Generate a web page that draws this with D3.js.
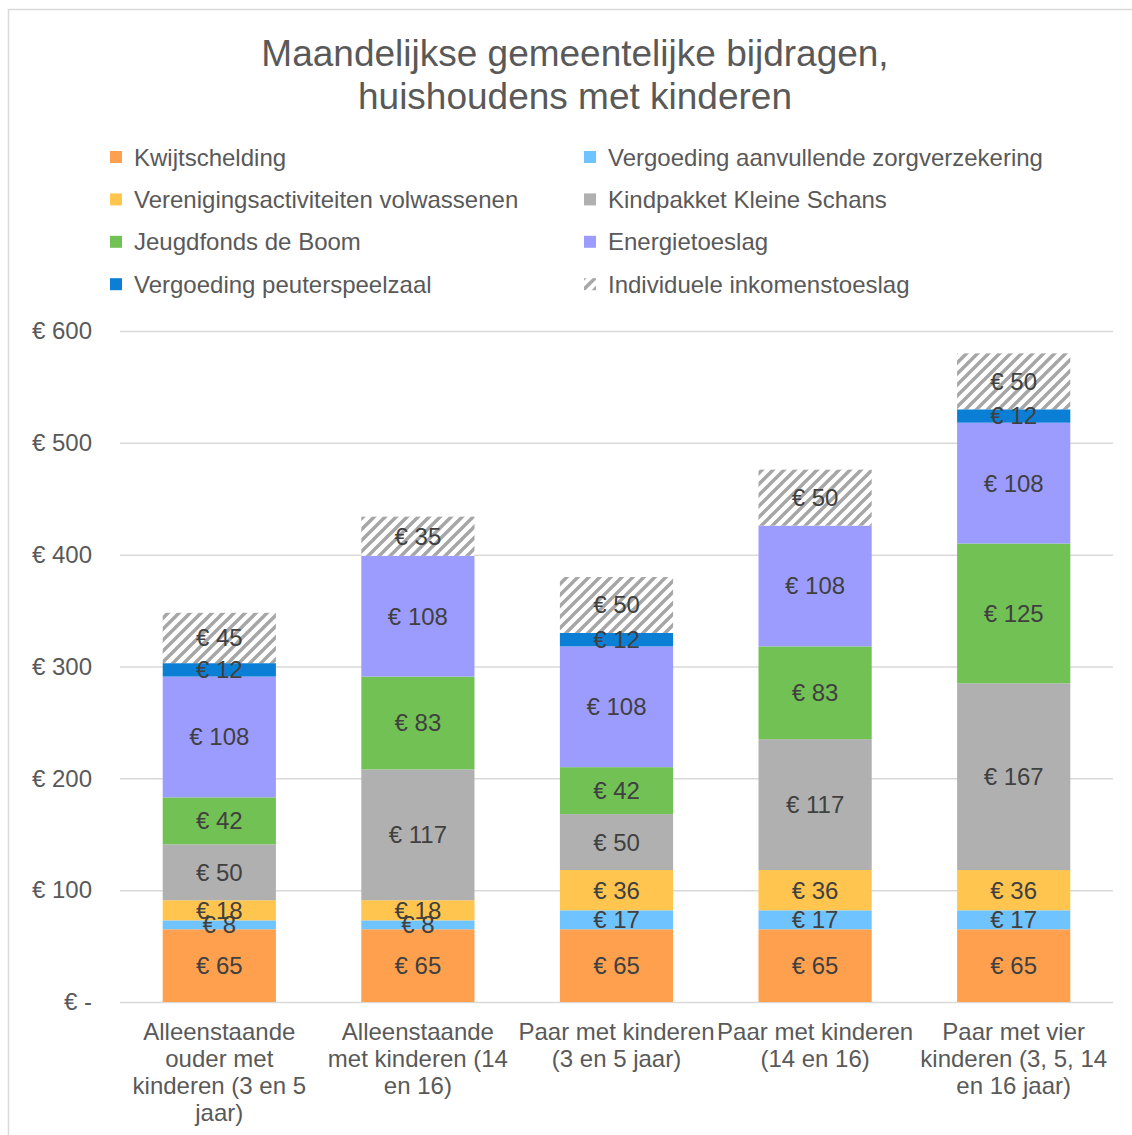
<!DOCTYPE html>
<html>
<head>
<meta charset="utf-8">
<script src="https://cdn.jsdelivr.net/npm/d3@7"></script>
<style>
  body { margin: 0; background: #fff; }
  text { font-family: "Liberation Sans", Arial, sans-serif; }
</style>
</head>
<body>
<svg width="1132" height="1135"></svg>
<script>
// Categories (line breaks as in the original axis)
const categories = [
    "Alleenstaande\nouder met\nkinderen (3 en 5\njaar)",
    "Alleenstaande\nmet kinderen (14\nen 16)",
    "Paar met kinderen\n(3 en 5 jaar)",
    "Paar met kinderen\n(14 en 16)",
    "Paar met vier\nkinderen (3, 5, 14\nen 16 jaar)"
];

// Series, stacked from bottom to top
const seriesNames = [
    "Kwijtschelding",
    "Vergoeding aanvullende zorgverzekering",
    "Verenigingsactiviteiten volwassenen",
    "Kindpakket Kleine Schans",
    "Jeugdfonds de Boom",
    "Energietoeslag",
    "Vergoeding peuterspeelzaal",
    "Individuele inkomenstoeslag"
];
const kwijtschelding   = [65, 65, 65, 65, 65];
const zorgverzekering  = [8, 8, 17, 17, 17];
const verenigingen     = [18, 18, 36, 36, 36];
const kindpakket       = [50, 117, 50, 117, 167];
const jeugdfonds       = [42, 83, 42, 83, 125];
const energietoeslag   = [108, 108, 108, 108, 108];
const peuterspeelzaal  = [12, 0, 12, 0, 12];
const inkomenstoeslag  = [45, 35, 50, 50, 50];
const seriesValues = [kwijtschelding, zorgverzekering, verenigingen, kindpakket,
                      jeugdfonds, energietoeslag, peuterspeelzaal, inkomenstoeslag];

const yTicks = [0, 100, 200, 300, 400, 500, 600];
const titleLines = ["Maandelijkse gemeentelijke bijdragen,", "huishoudens met kinderen"];

// Colours per series
const colors = ["#ffa04f", "#6fc3ff", "#ffc54f", "#b0b0b0", "#72c155", "#9c9cff", "#0b7fd6", "url(#hatch)"];

const svg = d3.select("svg");
const textColor = "#595959";

// Hatch pattern for the last series
const defs = svg.append("defs");
const pat = defs.append("pattern")
    .attr("id", "hatch")
    .attr("patternUnits", "userSpaceOnUse")
    .attr("width", 11).attr("height", 11);
pat.append("rect").attr("width", 11).attr("height", 11).attr("fill", "#fff");
pat.append("path")
    .attr("d", "M-3,3 L3,-3 M0,11 L11,0 M8,14 L14,8")
    .attr("stroke", "#a6a6a6")
    .attr("stroke-width", 3.4);

// Chart border
svg.append("rect")
    .attr("x", 8.5).attr("y", 9.5)
    .attr("width", 1140).attr("height", 1140)
    .attr("fill", "none")
    .attr("stroke", "#d9d9d9")
    .attr("stroke-width", 1.5);

// Title
svg.append("text")
    .attr("x", 575).attr("y", 66)
    .attr("text-anchor", "middle")
    .attr("font-size", 37)
    .attr("fill", textColor)
    .selectAll("tspan")
    .data(titleLines)
    .join("tspan")
    .attr("x", 575)
    .attr("dy", (d, i) => i === 0 ? 0 : 43)
    .text(d => d);

// Legend, two columns, filled row by row
const legend = svg.append("g");
const legendItems = legend.selectAll("g")
    .data(seriesNames)
    .join("g")
    .attr("transform", (d, i) => `translate(${i % 2 === 0 ? 110 : 584},${151 + Math.floor(i / 2) * 42.4})`);
legendItems.append("rect")
    .attr("width", 12).attr("height", 12)
    .attr("fill", (d, i) => colors[i]);
legendItems.append("text")
    .attr("x", 24).attr("y", 14.5)
    .attr("font-size", 24)
    .attr("fill", textColor)
    .text(d => d);

// Scales
const plot = { left: 120, right: 1113, top: 331, bottom: 1002 };
const x = d3.scaleBand()
    .domain(d3.range(categories.length))
    .range([plot.left, plot.right])
    .paddingInner(0.43)
    .paddingOuter(0.215);
const y = d3.scaleLinear()
    .domain([0, 600])
    .range([plot.bottom, plot.top]);

// Gridlines
svg.append("g")
    .selectAll("line")
    .data(yTicks)
    .join("line")
    .attr("x1", plot.left).attr("x2", plot.right)
    .attr("y1", d => y(d) + 0.5).attr("y2", d => y(d) + 0.5)
    .attr("stroke", "#d9d9d9")
    .attr("stroke-width", 1.5);

// Y axis labels
const yAxis = svg.append("g")
    .attr("transform", `translate(${plot.left},0)`)
    .call(d3.axisLeft(y).tickValues(yTicks).tickSize(0).tickPadding(28)
        .tickFormat(d => d === 0 ? "€ -" : "€ " + d));
yAxis.select(".domain").remove();
yAxis.selectAll("text")
    .attr("font-size", 24)
    .attr("font-family", "Liberation Sans, Arial, sans-serif")
    .attr("fill", textColor);

// Stack data
const rows = categories.map((c, i) => {
    const r = { idx: i };
    seriesNames.forEach((s, k) => r[s] = seriesValues[k][i]);
    return r;
});
const stacked = d3.stack().keys(seriesNames)(rows);

// Bars
const layers = svg.append("g")
    .selectAll("g")
    .data(stacked)
    .join("g")
    .attr("fill", (d, i) => colors[i]);
layers.selectAll("rect")
    .data(d => d.filter(p => p[1] > p[0]))
    .join("rect")
    .attr("x", d => x(d.data.idx))
    .attr("width", x.bandwidth())
    .attr("y", d => y(d[1]))
    .attr("height", d => y(d[0]) - y(d[1]));

// Data labels (Excel lets the small ones overlap)
const labels = svg.append("g");
stacked.forEach(layer => {
    labels.selectAll(null)
        .data(layer.filter(p => p[1] > p[0]))
        .join("text")
        .attr("x", d => x(d.data.idx) + x.bandwidth() / 2)
        .attr("y", d => y((d[0] + d[1]) / 2) + 8.5)
        .attr("text-anchor", "middle")
        .attr("font-size", 24)
        .attr("fill", "#404040")
        .text(d => "€ " + (d[1] - d[0]));
});

// Category labels
const xLabels = svg.append("g")
    .selectAll("text")
    .data(categories)
    .join("text")
    .attr("text-anchor", "middle")
    .attr("font-size", 24)
    .attr("fill", textColor);
xLabels.selectAll("tspan")
    .data((d, i) => d.split("\n").map(t => ({ t: t, i: i })))
    .join("tspan")
    .attr("x", d => x(d.i) + x.bandwidth() / 2)
    .attr("y", (d, j) => 1039.5 + j * 27)
    .text(d => d.t);
</script>
</body>
</html>
